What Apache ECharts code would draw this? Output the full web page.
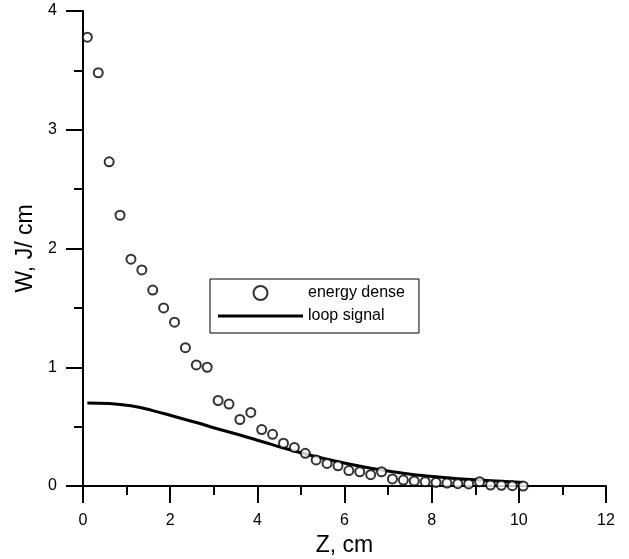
<!DOCTYPE html>
<html>
<head>
<meta charset="utf-8">
<script src="https://cdn.jsdelivr.net/npm/echarts@6/dist/echarts.min.js"></script>
<style>html,body{margin:0;padding:0;background:#fff}#c{width:629px;height:559px}</style>
</head>
<body>
<div id="c"></div>
<script>
const seriesNames = ['energy dense', 'loop signal'];
const energyX = [0.1,0.35,0.6,0.85,1.1,1.35,1.6,1.85,2.1,2.35,2.6,2.85,3.1,3.35,3.6,3.85,4.1,4.35,4.6,4.85,5.1,5.35,5.6,5.85,6.1,6.35,6.6,6.85,7.1,7.35,7.6,7.85,8.1,8.35,8.6,8.85,9.1,9.35,9.6,9.85,10.1];
const energyY = [3.78,3.48,2.73,2.28,1.91,1.82,1.65,1.50,1.38,1.165,1.02,1.00,0.72,0.69,0.56,0.62,0.475,0.435,0.36,0.325,0.275,0.22,0.19,0.17,0.13,0.12,0.095,0.12,0.06,0.05,0.042,0.036,0.03,0.025,0.02,0.017,0.036,0.008,0.006,0.003,0.0];
const loopX = [0.1,0.6,1.1,1.6,2.1,2.6,3.1,3.6,4.1,4.6,5.1,5.6,6.1,6.6,7.1,7.6,8.1,8.6,9.1,9.6,10.1];
const loopY = [0.70,0.695,0.675,0.635,0.585,0.535,0.48,0.43,0.375,0.32,0.27,0.225,0.185,0.15,0.12,0.095,0.077,0.062,0.05,0.04,0.03];
const xTitle = 'Z, cm';
const yTitle = 'W, J/ cm';

const font = 'Liberation Sans, Arial, sans-serif';
const chart = echarts.init(document.getElementById('c'), null, {renderer: 'canvas'});
const axisCommon = {
  axisLine: {show: true, onZero: false, lineStyle: {color: '#000', width: 2}},
  axisTick: {show: true, inside: false, length: 17, lineStyle: {color: '#000', width: 2}},
  minorTick: {show: true, splitNumber: 2, length: 9, lineStyle: {color: '#000', width: 2}},
  splitLine: {show: false},
  nameTextStyle: {color: '#000', fontFamily: font, fontSize: 23}
};
chart.setOption({
  animation: false,
  backgroundColor: '#fff',
  grid: {left: 83, right: 23, top: 11, bottom: 73, containLabel: false, outerBoundsMode: 'none'},
  xAxis: Object.assign({}, axisCommon, {
    type: 'value', min: 0, max: 12, interval: 2,
    name: xTitle, nameLocation: 'middle', nameGap: 44,
    axisLabel: {color: '#000', fontFamily: font, fontSize: 16, margin: 27}
  }),
  yAxis: Object.assign({}, axisCommon, {
    type: 'value', min: 0, max: 4, interval: 1,
    name: yTitle, nameLocation: 'middle', nameGap: 46,
    axisLabel: {color: '#000', fontFamily: font, fontSize: 16, margin: 26}
  }),
  legend: {
    show: true, orient: 'vertical', left: 210, top: 279,
    align: 'left',
    itemWidth: 85, itemHeight: 14, itemGap: 7,
    padding: [6, 14, 9, 8],
    borderColor: '#000', borderWidth: 1, backgroundColor: '#fff', borderRadius: 0,
    textStyle: {color: '#000', fontFamily: font, fontSize: 16},
    data: [
      {name: seriesNames[0], icon: 'emptyCircle'},
      {name: seriesNames[1], icon: 'path://M0,5.5 L85,5.5 L85,8.5 L0,8.5 Z'}
    ]
  },
  series: [
    {
      name: seriesNames[0], type: 'scatter',
      symbol: 'emptyCircle', symbolSize: 9,
      itemStyle: {color: '#000', borderColor: '#000', borderWidth: 1.5},
      data: energyX.map((x, i) => [x, energyY[i]]),
      z: 3
    },
    {
      name: seriesNames[1], type: 'line', smooth: true,
      symbol: 'none', showSymbol: false,
      lineStyle: {color: '#000', width: 3},
      itemStyle: {color: '#000'},
      data: loopX.map((x, i) => [x, loopY[i]]),
      z: 2
    }
  ]
});
</script>
</body>
</html>
